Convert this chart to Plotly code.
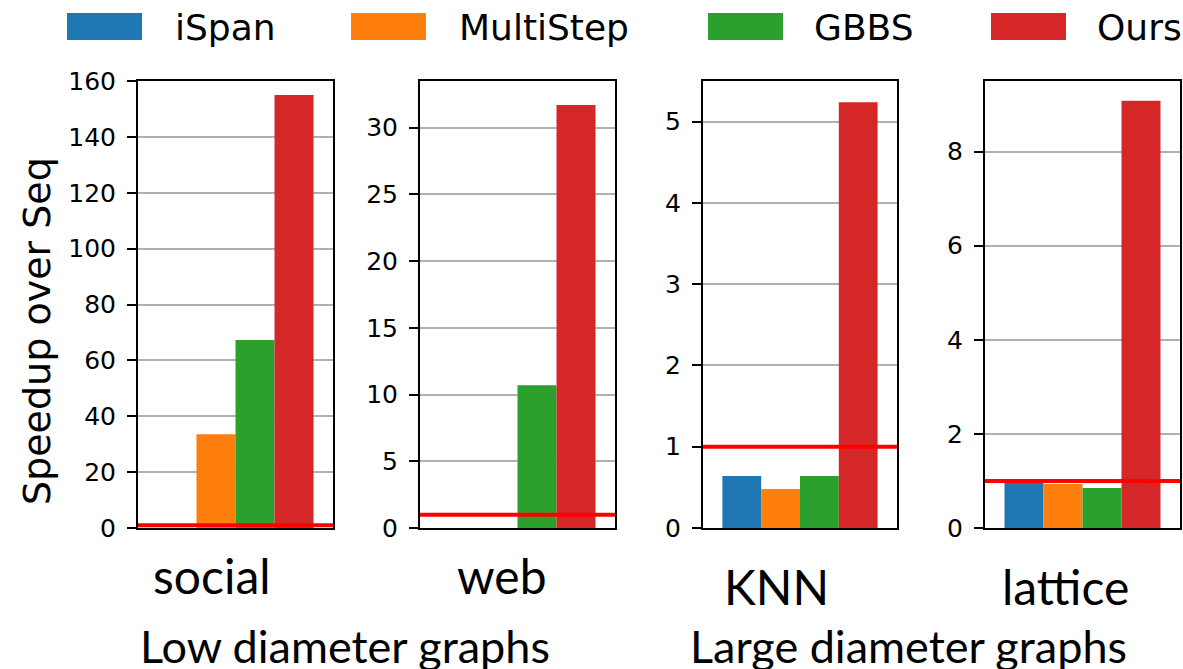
import plotly.graph_objects as go

# Datasets (one panel each) and per-method speedups over the sequential baseline
datasets = ["social", "web", "KNN", "lattice"]
methods = ["iSpan", "MultiStep", "GBBS", "Ours"]
ispan = [None, None, 0.64, 0.96]
multistep = [33.6, None, 0.48, 0.935]
gbbs = [67.3, 10.7, 0.64, 0.85]
ours = [155.0, 31.7, 5.24, 9.08]
series = [ispan, multistep, gbbs, ours]
colors = ["#1f77b4", "#ff7f0e", "#2ca02c", "#d62728"]

# Per-panel y ranges and ticks
y_max = [160, 33.5, 5.5, 9.5]
y_ticks = [list(range(0, 161, 20)), list(range(0, 31, 5)), list(range(0, 6)), [0, 2, 4, 6, 8]]
baseline = 1.0  # speedup of the sequential reference

groups = ["Low diameter graphs", "Large diameter graphs"]

W, H = 1183, 669
def px(x):
    return x / W
def py(y):
    return 1 - y / H

panel_px = [(138, 333), (420, 615), (703, 897), (985, 1180)]
panel_top, panel_bottom = 81, 528
# dataset caption placement under each panel (centre x, centre y in pixels)
caption_pos = [(212, 575), (502, 575), (776, 586), (1065, 586)]

fig = go.Figure()

for i, name in enumerate(datasets):
    ax = "" if i == 0 else str(i + 1)
    for s, m in enumerate(methods):
        fig.add_trace(go.Bar(
            x=[name], y=[series[s][i]], name=m,
            marker=dict(color=colors[s], line=dict(width=0)),
            xaxis="x" + ax, yaxis="y" + ax, showlegend=False,
        ))
    x0, x1 = panel_px[i]
    fig.update_layout(**{
        "xaxis" + ax: dict(
            domain=[px(x0), px(x1)], anchor="y" + ax, type="category",
            range=[-0.5, 0.5], showline=True, linecolor="black", linewidth=2,
            mirror=True, ticks="", showgrid=False, zeroline=False,
            showticklabels=False, fixedrange=True, automargin=False,
        ),
        "yaxis" + ax: dict(
            domain=[py(panel_bottom), py(panel_top)], anchor="x" + ax,
            range=[0, y_max[i]], tickvals=y_ticks[i],
            showline=True, linecolor="black", linewidth=2, mirror=True,
            ticks="outside", ticklen=9, tickwidth=2, tickcolor="black",
            showgrid=True, gridcolor="#b0b0b0", gridwidth=1.5, zeroline=False,
            tickfont=dict(family="DejaVu Sans", size=25, color="black"),
            ticklabelstandoff=6, fixedrange=True, automargin=False,
        ),
    })
    # horizontal reference line at speedup = 1
    fig.add_shape(type="line", xref="x" + ax + " domain", yref="y" + ax,
                  x0=0, x1=1, y0=baseline, y1=baseline,
                  line=dict(color="#ff0000", width=4), layer="above")
    # dataset caption
    cx, cy = caption_pos[i]
    fig.add_annotation(text=name, xref="paper", yref="paper",
                       x=px(cx), y=py(cy), xanchor="center", yanchor="middle",
                       showarrow=False,
                       font=dict(family="Lato", size=48, color="black"))

# Legend row
patch_left = [67, 351, 708, 991]
text_left = [173, 457, 812, 1095]
for s, m in enumerate(methods):
    fig.add_shape(type="rect", xref="paper", yref="paper",
                  x0=px(patch_left[s]), x1=px(patch_left[s] + 75),
                  y0=py(40), y1=py(13), fillcolor=colors[s], line=dict(width=0))
    fig.add_annotation(text=m, xref="paper", yref="paper",
                       x=px(text_left[s]), y=py(27), xanchor="left", yanchor="middle",
                       showarrow=False,
                       font=dict(family="DejaVu Sans", size=36, color="black"))

# Y-axis title
fig.add_annotation(text="Speedup over Seq", xref="paper", yref="paper",
                   x=px(37), y=py(331), textangle=-90, showarrow=False,
                   xanchor="center", yanchor="middle",
                   font=dict(family="DejaVu Sans", size=38, color="black"))

# Group captions
group_cx = [345, 908]
for g, cx in zip(groups, group_cx):
    fig.add_annotation(text=g, xref="paper", yref="paper",
                       x=px(cx), y=py(646), xanchor="center", yanchor="middle",
                       showarrow=False,
                       font=dict(family="Lato", size=45, color="black"))

fig.update_layout(
    width=W, height=H, margin=dict(l=0, r=0, t=0, b=0, autoexpand=False),
    paper_bgcolor="white", plot_bgcolor="white",
    barmode="group", bargap=0.2, bargroupgap=0,
    showlegend=False,
)

fig.write_html("out.html")
